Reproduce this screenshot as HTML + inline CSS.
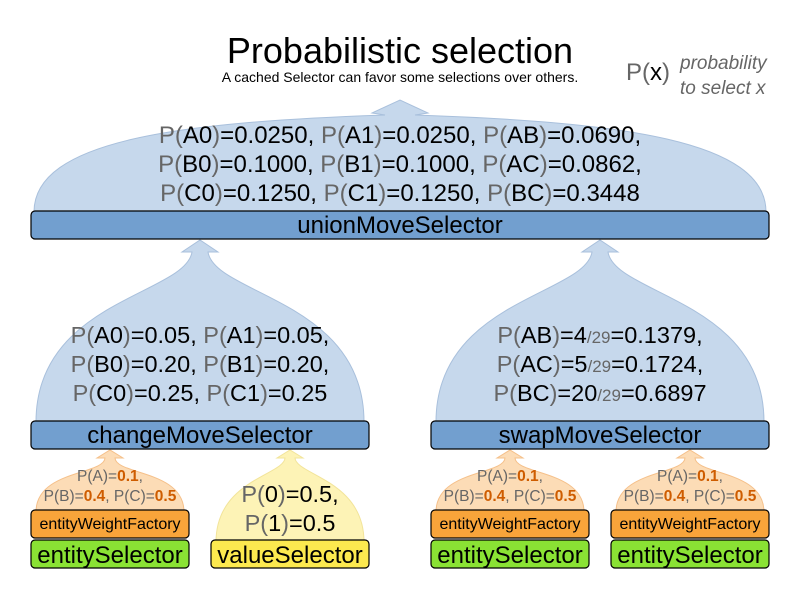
<!DOCTYPE html>
<html><head><meta charset="utf-8"><style>
html,body{margin:0;padding:0;background:#fff}
svg{display:block;font-family:"Liberation Sans",Arial,sans-serif}
.g{fill:#666}
.o{fill:#ce5c00;font-weight:bold}
</style></head><body>
<svg width="800" height="600" viewBox="0 0 800 600" xmlns="http://www.w3.org/2000/svg">
<text x="400" y="63" font-size="36" text-anchor="middle" fill="#000">Probabilistic selection</text>
<text x="400" y="82" font-size="14" text-anchor="middle" fill="#000">A cached Selector can favor some selections over others.</text>
<text x="626" y="80" font-size="24" fill="#000"><tspan class="g">P(</tspan>x<tspan class="g">)</tspan></text>
<text x="680" y="69" font-size="19" font-style="italic" fill="#666">probability</text>
<text x="680" y="94" font-size="19" font-style="italic" fill="#666">to select x</text>

<path d="M34,212 C34,140 180,122 385,115 L372,113 L400,100 L428,113 L415,115 C620,122 766,140 766,212 Z" fill="#c6d8ec" stroke="#a9c0dc"/>
<path d="M36,422 C36,300 185,295 192,252 L182,252 L200,240 L218,252 L208,252 C215,295 364,300 364,422 Z" fill="#c6d8ec" stroke="#a9c0dc"/>
<path d="M436,422 C436,300 585,295 592,252 L582,252 L600,240 L618,252 L608,252 C615,295 764,300 764,422 Z" fill="#c6d8ec" stroke="#a9c0dc"/>
<path d="M36,512 C36,470 104,475 105,458 L97,458 L110,450 L123,458 L115,458 C116,475 184,470 184,512 Z" fill="#fcdcb6" stroke="#f5c08a"/>
<path d="M216,542 C216,480 284,475 285,458 L277,458 L290,450 L303,458 L295,458 C296,475 364,480 364,542 Z" fill="#fdf3b6" stroke="#f2e49a"/>
<path d="M436,512 C436,470 504,475 505,458 L497,458 L510,450 L523,458 L515,458 C516,475 584,470 584,512 Z" fill="#fcdcb6" stroke="#f5c08a"/>
<path d="M616,512 C616,470 684,475 685,458 L677,458 L690,450 L703,458 L695,458 C696,475 764,470 764,512 Z" fill="#fcdcb6" stroke="#f5c08a"/>

<g font-size="24" text-anchor="middle" fill="#000">
<text x="400" y="143"><tspan class="g">P(</tspan>A0<tspan class="g">)</tspan>=0.0250, <tspan class="g">P(</tspan>A1<tspan class="g">)</tspan>=0.0250, <tspan class="g">P(</tspan>AB<tspan class="g">)</tspan>=0.0690,</text>
<text x="400" y="172"><tspan class="g">P(</tspan>B0<tspan class="g">)</tspan>=0.1000, <tspan class="g">P(</tspan>B1<tspan class="g">)</tspan>=0.1000, <tspan class="g">P(</tspan>AC<tspan class="g">)</tspan>=0.0862,</text>
<text x="400" y="201"><tspan class="g">P(</tspan>C0<tspan class="g">)</tspan>=0.1250, <tspan class="g">P(</tspan>C1<tspan class="g">)</tspan>=0.1250, <tspan class="g">P(</tspan>BC<tspan class="g">)</tspan>=0.3448</text>
</g>
<g font-size="23.5" text-anchor="middle" fill="#000">
<text x="200" y="343"><tspan class="g">P(</tspan>A0<tspan class="g">)</tspan>=0.05, <tspan class="g">P(</tspan>A1<tspan class="g">)</tspan>=0.05,</text>
<text x="200" y="372"><tspan class="g">P(</tspan>B0<tspan class="g">)</tspan>=0.20, <tspan class="g">P(</tspan>B1<tspan class="g">)</tspan>=0.20,</text>
<text x="200" y="401"><tspan class="g">P(</tspan>C0<tspan class="g">)</tspan>=0.25, <tspan class="g">P(</tspan>C1<tspan class="g">)</tspan>=0.25</text>
<text x="600" y="343"><tspan class="g">P(</tspan>AB<tspan class="g">)</tspan>=4<tspan class="g" font-size="17">/29</tspan>=0.1379,</text>
<text x="600" y="372"><tspan class="g">P(</tspan>AC<tspan class="g">)</tspan>=5<tspan class="g" font-size="17">/29</tspan>=0.1724,</text>
<text x="600" y="401"><tspan class="g">P(</tspan>BC<tspan class="g">)</tspan>=20<tspan class="g" font-size="17">/29</tspan>=0.6897</text>
<text x="290" y="502"><tspan class="g">P(</tspan>0<tspan class="g">)</tspan>=0.5,</text>
<text x="290" y="531"><tspan class="g">P(</tspan>1<tspan class="g">)</tspan>=0.5</text>
</g>
<g font-size="15.5" text-anchor="middle" fill="#666">
<text x="110" y="481">P(A)=<tspan class="o">0.1</tspan>,</text>
<text x="110" y="501">P(B)=<tspan class="o">0.4</tspan>, P(C)=<tspan class="o">0.5</tspan></text>
<text x="510" y="481">P(A)=<tspan class="o">0.1</tspan>,</text>
<text x="510" y="501">P(B)=<tspan class="o">0.4</tspan>, P(C)=<tspan class="o">0.5</tspan></text>
<text x="690" y="481">P(A)=<tspan class="o">0.1</tspan>,</text>
<text x="690" y="501">P(B)=<tspan class="o">0.4</tspan>, P(C)=<tspan class="o">0.5</tspan></text>
</g>

<g stroke="#000" stroke-width="1.2">
<rect x="31" y="211" width="738" height="28" rx="4" fill="#729fcf"/>
<rect x="31" y="421" width="338" height="28" rx="4" fill="#729fcf"/>
<rect x="431" y="421" width="338" height="28" rx="4" fill="#729fcf"/>
<rect x="31" y="510" width="158" height="28" rx="4" fill="#f8a43a"/>
<rect x="31" y="540" width="158" height="28" rx="4" fill="#8ae234"/>
<rect x="211" y="540" width="158" height="28" rx="4" fill="#fce94f"/>
<rect x="431" y="510" width="158" height="28" rx="4" fill="#f8a43a"/>
<rect x="431" y="540" width="158" height="28" rx="4" fill="#8ae234"/>
<rect x="611" y="510" width="158" height="28" rx="4" fill="#f8a43a"/>
<rect x="611" y="540" width="158" height="28" rx="4" fill="#8ae234"/>
</g>
<g text-anchor="middle" fill="#000">
<text x="400" y="233" font-size="24">unionMoveSelector</text>
<text x="200" y="443" font-size="24">changeMoveSelector</text>
<text x="600" y="443" font-size="24">swapMoveSelector</text>
<text x="110" y="529" font-size="16">entityWeightFactory</text>
<text x="510" y="529" font-size="16">entityWeightFactory</text>
<text x="690" y="529" font-size="16">entityWeightFactory</text>
<text x="110" y="563" font-size="24">entitySelector</text>
<text x="290" y="563" font-size="24">valueSelector</text>
<text x="510" y="563" font-size="24">entitySelector</text>
<text x="690" y="563" font-size="24">entitySelector</text>
</g>
</svg>
</body></html>
